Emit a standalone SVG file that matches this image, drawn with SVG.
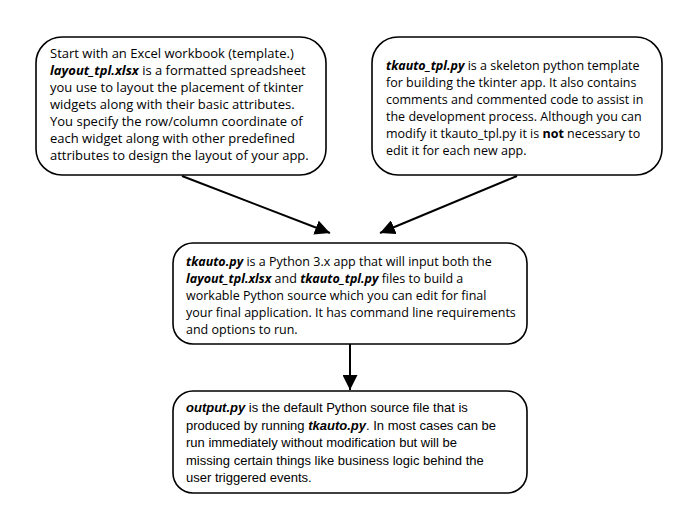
<svg xmlns="http://www.w3.org/2000/svg" width="700" height="525" viewBox="0 0 700 525">
<defs>
<style>
.box{fill:#fff;stroke:#000;stroke-width:1.6}
.t{font-family:"Open Sans","Liberation Sans",sans-serif;font-size:12.5px;fill:#000}
.t13{font-size:13px}
.a{font-family:"Liberation Sans",Arial,sans-serif;font-size:13px;fill:#000}
.bi{font-weight:bold;font-style:italic}
.b{font-weight:bold}
.conn{stroke:#000;stroke-width:2;fill:none}
</style>
<marker id="ah" viewBox="0 0 10 10" refX="10" refY="5" markerWidth="7.5" markerHeight="7.5" markerUnits="strokeWidth" orient="auto">
<path d="M0,0 L10,5 L0,10 z" fill="#000"/>
</marker>
</defs>
<rect width="700" height="525" fill="#fff"/>
<g id="connectors">
<line class="conn" x1="182" y1="176" x2="330" y2="233" marker-end="url(#ah)"/>
<line class="conn" x1="517" y1="176" x2="380" y2="233" marker-end="url(#ah)"/>
<line class="conn" x1="350" y1="344" x2="350" y2="390" marker-end="url(#ah)"/>
</g>
<g id="node-excel">
<rect class="box" x="36" y="37" width="290" height="138" rx="26"/>
<text class="t t13" x="50" y="58">Start with an Excel workbook (template.)</text>
<text class="t t13" x="50" y="75"><tspan class="bi">layout_tpl.xlsx</tspan> is a formatted spreadsheet</text>
<text class="t t13" x="50" y="92">you use to layout the placement of tkinter</text>
<text class="t t13" x="50" y="109">widgets along with their basic attributes.</text>
<text class="t t13" x="50" y="126">You specify the row/column coordinate of</text>
<text class="t t13" x="50" y="143">each widget along with other predefined</text>
<text class="t t13" x="50" y="160">attributes to design the layout of your app.</text>
</g>
<g id="node-template">
<rect class="box" x="372" y="37" width="290" height="138" rx="26"/>
<text class="t" x="386" y="70"><tspan class="bi">tkauto_tpl.py</tspan> is a skeleton python template</text>
<text class="t" x="386" y="87">for building the tkinter app. It also contains</text>
<text class="t" x="386" y="104">comments and commented code to assist in</text>
<text class="t" x="386" y="121">the development process. Although you can</text>
<text class="t" x="386" y="138">modify it tkauto_tpl.py it is <tspan class="b">not</tspan> necessary to</text>
<text class="t" x="386" y="155">edit it for each new app.</text>
</g>
<g id="node-tkauto">
<rect class="box" x="173" y="243" width="354" height="101" rx="20"/>
<text class="t" x="186" y="266"><tspan class="bi">tkauto.py</tspan> is a Python 3.x app that will input both the</text>
<text class="t" x="186" y="283"><tspan class="bi">layout_tpl.xlsx</tspan> and <tspan class="bi">tkauto_tpl.py</tspan> files to build a</text>
<text class="t" x="186" y="300">workable Python source which you can edit for final</text>
<text class="t" x="186" y="317">your final application. It has command line requirements</text>
<text class="t" x="186" y="334">and options to run.</text>
</g>
<g id="node-output">
<rect class="box" x="173" y="391" width="354" height="102" rx="20"/>
<text class="a" x="186" y="412"><tspan class="bi">output.py</tspan> is the default Python source file that is</text>
<text class="a" x="186" y="429.5">produced by running <tspan class="bi">tkauto.py</tspan>. In most cases can be</text>
<text class="a" x="186" y="447">run immediately without modification but will be</text>
<text class="a" x="186" y="464.5">missing certain things like business logic behind the</text>
<text class="a" x="186" y="482">user triggered events.</text>
</g>
</svg>
